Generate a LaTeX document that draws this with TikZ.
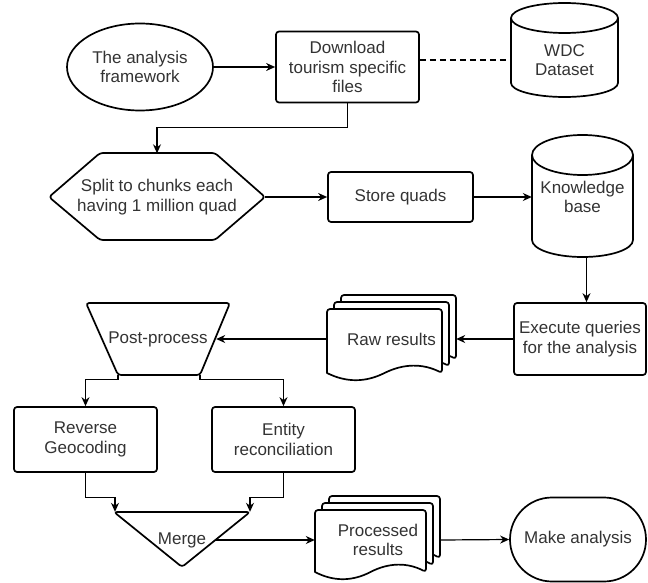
\documentclass[tikz,border=0pt]{standalone}
\usepackage{fontspec}
\setmainfont{Liberation Sans}
\usetikzlibrary{arrows.meta,shapes.geometric}
\definecolor{txt}{HTML}{333333}
\newcommand\dfont{\fontsize{17}{19.5}\selectfont}
% document page: x0 y0 w h dy
\newcommand\docpage[5]{%
  \draw[shp, fill=white, rounded corners=3pt] ({#1},{#2+#4-#5/2}) -- ({#1},{#2}) -- ({#1+#3},{#2}) -- ({#1+#3},{#2+#4-#5/2})
  [sharp corners] .. controls ({#1+0.8333*#3},{#2+#4-1.1*#5}) and ({#1+0.6667*#3},{#2+#4-1.1*#5}) .. ({#1+0.5*#3},{#2+#4-#5/2})
  .. controls ({#1+0.3333*#3},{#2+#4+0.1*#5}) and ({#1+0.1667*#3},{#2+#4+0.1*#5}) .. ({#1},{#2+#4-#5/2}) -- cycle;}
% multi document: x0 y0 w h dy offset
\newcommand\multidoc[6]{%
  \docpage{#1+2*#6}{#2-2*#6}{#3}{#4}{#5}%
  \docpage{#1+#6}{#2-#6}{#3}{#4}{#5}%
  \docpage{#1}{#2}{#3}{#4}{#5}}
\begin{document}
\begin{tikzpicture}[x=1pt,y=-1pt,
  shp/.style={draw=black, line width=1.7pt, line join=round},
  box/.style={shp, rectangle, rounded corners=3pt, inner sep=0pt, align=center, text=txt, font=\dfont},
  lbl/.style={inner sep=0pt, align=center, text=txt, font=\dfont},
  arr/.style={draw=black, line width=1.2pt, -{Stealth[length=9pt,width=8pt]}},
  dashline/.style={draw=black, line width=1.2pt, dash pattern=on 6pt off 4pt}]
\fill[white] (0,0) rectangle (648,583);
\useasboundingbox (0,0) rectangle (648,583);

% ---- outlines of hand-drawn shapes ----
% WDC cylinder
\draw[shp] (511,18) -- (511,83) .. controls (511,90.73) and (534.95,97) .. (564.5,97)
  .. controls (594.05,97) and (618,90.73) .. (618,83) -- (618,18);
\draw[shp] (564.5,18) ellipse [x radius=53.5, y radius=15];
% Knowledge base cylinder
\draw[shp] (532,155) -- (532,240) .. controls (532,249.39) and (554.61,257) .. (582.5,257)
  .. controls (610.39,257) and (633,249.39) .. (633,240) -- (633,155);
\draw[shp] (582.5,155) ellipse [x radius=50.5, y radius=20];
% hexagon
\draw[shp, rounded corners=3pt] (49,197) -- (100,153) -- (215,153) -- (265,197) -- (215,240) -- (100,240) -- cycle;
% trapezoid
\draw[shp, rounded corners=3pt] (86,303) -- (230,303) -- (200,375) -- (118,375) -- cycle;
% merge triangle
\draw[shp, rounded corners=3pt] (114,512) -- (250,512) -- (182,567) -- cycle;
% documents
\multidoc{327}{309}{115}{72}{16}{7}
\multidoc{315}{510}{111}{70}{16}{7}

% ---- nodes ----
\node[shp, ellipse, minimum width=146, minimum height=87, inner sep=0pt, align=center, text=txt, font=\dfont] (frame) at (140,67) {The analysis\\framework};
\node[box, minimum width=143, minimum height=71] (download) at (347.5,67) {Download\\tourism specific\\files};
\node[lbl, minimum width=107, minimum height=10] (wdc) at (564.5,60) {WDC\\Dataset};
\node[lbl, minimum width=216, minimum height=87] (split) at (157,197) {Split to chunks each\\having 1 million quad};
\node[box, minimum width=145, minimum height=50] (store) at (400.5,197) {Store quads};
\node[lbl, minimum width=101, minimum height=120] (kb) at (582.5,197) {Knowledge\\base};
\node[box, minimum width=132, minimum height=72] (exec) at (580,339) {Execute queries\\for the analysis};
\node[lbl, minimum width=129, minimum height=60] (raw) at (391.5,339) {Raw results};
\node[lbl, minimum width=116, minimum height=72] (post) at (158,339) {Post-process};
\node[box, minimum width=143, minimum height=65] (rev) at (85.5,439.5) {Reverse\\Geocoding};
\node[box, minimum width=143, minimum height=65] (ent) at (283.5,439.5) {Entity\\reconciliation};
\node[lbl, minimum width=68, minimum height=56] (merge) at (182,540) {Merge};
\node[lbl, minimum width=126, minimum height=60] (proc) at (378,540) {Processed\\results};
\node[shp, rectangle, rounded corners=42pt, minimum width=136, minimum height=84, inner sep=0pt, align=center, text=txt, font=\dfont] (make) at (578,539.5) {Make analysis};

% ---- connectors ----
\draw[arr] (frame.east) -- (download.west);
\draw[dashline] (download.east |- wdc.west) -- (wdc.west);
\draw[arr] (download.south) -- ++(0,24) -| (split.north);
\draw[arr] (split.east) -- (store.west);
\draw[arr] (store.east) -- (kb.west);
\draw[arr] ([xshift=4pt]kb.south) -- ([xshift=4pt]kb.south |- exec.north);
\draw[arr] (exec.west) -- (raw.east);
\draw[arr] (raw.west) -- (post.east);
\draw[arr] ([xshift=-40pt]post.south) -- ++(0,4) -| (rev.north);
\draw[arr] ([xshift=42pt]post.south) -- ++(0,4) -| (ent.north);
\draw[arr] (rev.south) -- ++(0,25) -| ([xshift=-67pt]merge.north);
\draw[arr] (ent.south) -- ++(0,25) -| ([xshift=68pt]merge.north);
\draw[arr] (merge.east) -- (proc.west);
\draw[arr] (proc.east) -- (make.west);
\end{tikzpicture}
\end{document}
